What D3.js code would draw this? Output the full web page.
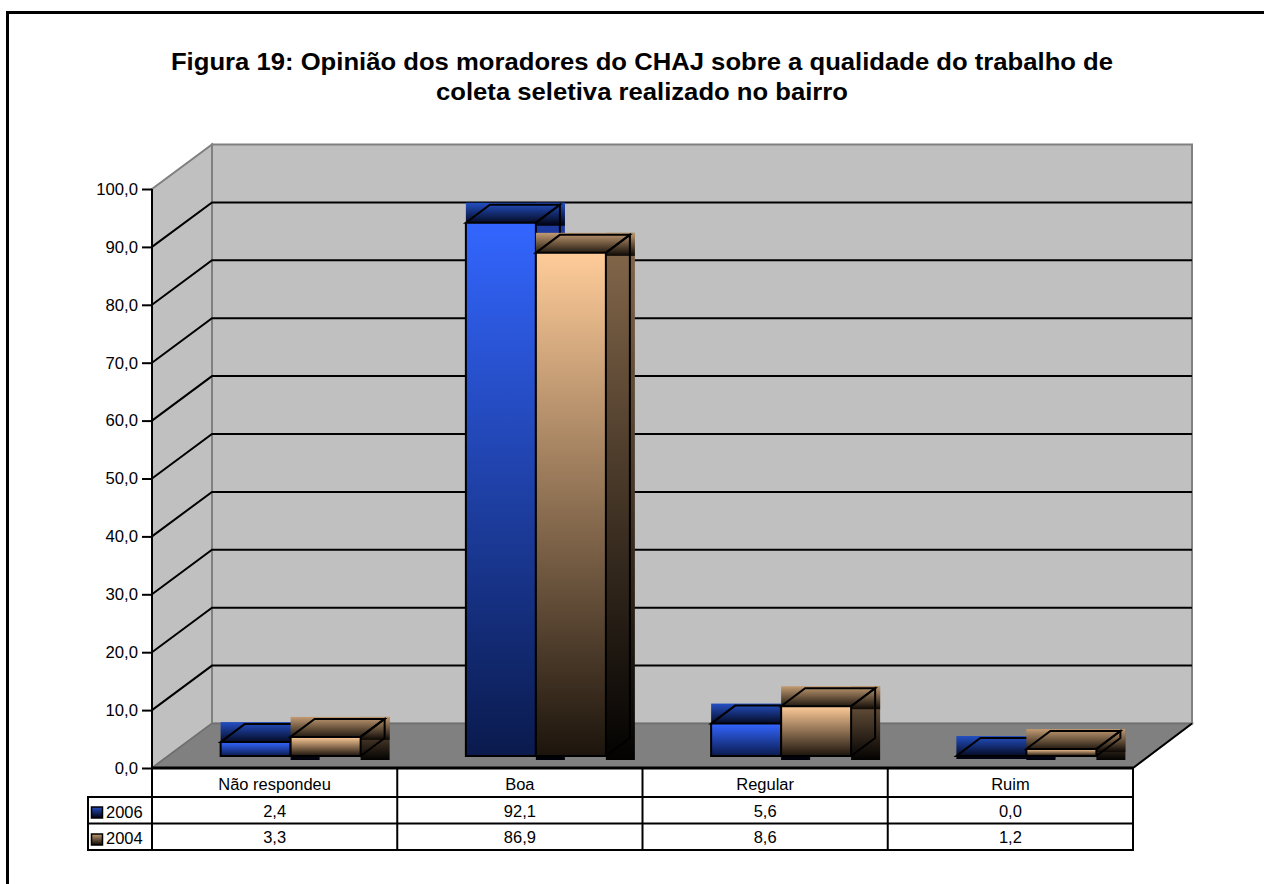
<!DOCTYPE html>
<html><head><meta charset="utf-8">
<style>html,body{margin:0;padding:0;background:#fff;overflow:hidden}svg{display:block}text{font-family:"Liberation Sans",Arial,sans-serif;fill:#000}</style>
<script src="https://cdnjs.cloudflare.com/ajax/libs/d3/7.8.5/d3.min.js"></script></head><body>
<script>
const categories=["Não respondeu","Boa","Regular","Ruim"];
const values2006=[2.4,92.1,5.6,0.0];
const values2004=[3.3,86.9,8.6,1.2];
const seriesNames=["2006","2004"];
const yTicks=[0,10,20,30,40,50,60,70,80,90,100];
const titleLines=["Figura 19: Opinião dos moradores do CHAJ sobre a qualidade do trabalho de","coleta seletiva realizado no bairro"];

const W=1264,H=884;
const svg=d3.select("body").append("svg").attr("width",W).attr("height",H);
const defs=svg.append("defs");
function grad(id,c0,c1){const g=defs.append("linearGradient").attr("id",id).attr("x1",0).attr("y1",0).attr("x2",0).attr("y2",1);
 g.append("stop").attr("offset",0).attr("stop-color",c0);g.append("stop").attr("offset",1).attr("stop-color",c1);}
const palette=[
 {front:["#3366ff","#0a1a4d"],top:["#2450c4","#00000c"],side:["#1f3da6","#000008"]},
 {front:["#ffcc99","#1c140c"],top:["#c29b72","#0c0804"],side:["#86694c","#030201"]}];
palette.forEach((p,i)=>{grad("f"+i,...p.front);grad("t"+i,...p.top);grad("s"+i,...p.side);});

svg.append("path").attr("d",`M7.5,${H}V12.5H${W}`).attr("fill","none").attr("stroke","#000").attr("stroke-width",3);

titleLines.forEach((t,i)=>svg.append("text").attr("transform",`translate(642,${70+i*30}) scale(1.092,1)`)
 .attr("text-anchor","middle").attr("font-weight","bold").attr("font-size",23.5).text(t));

const x0=152,x1=1133,wallDx=60,wallDy=44.5;
const y=d3.scaleLinear().domain([0,100]).range([768,189]);
const x=d3.scaleBand().domain(categories).range([x0,x1]);
const g=svg.append("g");
// walls and floor
g.append("path").attr("d",`M${x0},${y(0)}L${x0+wallDx},${y(0)-wallDy}V${y(100)-wallDy}L${x0},${y(100)}Z`).attr("fill","#c0c0c0").attr("stroke","#808080").attr("stroke-width",2);
g.append("rect").attr("x",x0+wallDx).attr("y",y(100)-wallDy).attr("width",x1-x0-1).attr("height",y(0)-y(100)).attr("fill","#c0c0c0").attr("stroke","#808080").attr("stroke-width",2);
g.append("path").attr("d",`M${x0},${y(0)}L${x0+wallDx},${y(0)-wallDy}H${x1+wallDx-1}L${x1},${y(0)}Z`).attr("fill","#808080").attr("stroke","#6e6e6e").attr("stroke-width",1.5);
g.append("path").attr("d",`M${x1},${y(0)}L${x1+wallDx-1},${y(0)-wallDy}`).attr("stroke","#000").attr("stroke-width",2).attr("fill","none");
// gridlines
g.selectAll(".grid").data(yTicks.filter(d=>d>0&&d<100)).join("path")
 .attr("d",d=>`M${x0},${y(d)}L${x0+wallDx},${y(d)-wallDy}H${x1+wallDx-1}`).attr("fill","none").attr("stroke","#000").attr("stroke-width",2);
// axis
const axis=g.append("g").attr("transform",`translate(${x0},0)`).call(d3.axisLeft(y).tickValues(yTicks).tickSize(10).tickPadding(4).tickFormat(d=>d3.format(".1f")(d).replace(".",",")));
axis.selectAll("text").attr("font-size",16.7).attr("font-family",'"Liberation Sans",Arial,sans-serif').attr("fill","#000");
axis.selectAll("line").attr("stroke","#000").attr("stroke-width",2);
axis.select(".domain").attr("stroke","#000").attr("stroke-width",2).attr("d",`M0,${y(100)}V${y(0)}`);

// bars
const bw=70,barDx=24,barDy=18,offX=16,offY=12;
const barsG=g.append("g");
categories.forEach((c,ci)=>{
 [values2006,values2004].forEach((vals,si)=>{
  const cx=x(c)+x.bandwidth()/2+offX, bx=si===0?cx-bw:cx, by=y(vals[ci])-offY, by0=y(0)-offY;
  const b=barsG.append("g");
  b.append("rect").attr("x",bx+bw).attr("y",by-20).attr("width",barDx+5).attr("height",by0+4-(by-20)).attr("fill",`url(#s${si})`);
  b.append("rect").attr("x",bx).attr("y",by-20).attr("width",bw+barDx+5).attr("height",23).attr("fill",`url(#t${si})`);
  if(by0-by>0.5) b.append("rect").attr("x",bx).attr("y",by).attr("width",bw).attr("height",by0-by).attr("fill",`url(#f${si})`);
  const st={fill:"none",stroke:"#000","stroke-width":2,"stroke-linejoin":"miter"};
  const p=d=>{const e=b.append("path").attr("d",d);Object.entries(st).forEach(([k,v])=>e.attr(k,v));};
  p(`M${bx},${by}L${bx+barDx},${by-barDy}H${bx+bw+barDx}L${bx+bw},${by}Z`);
  p(`M${bx+bw},${by}L${bx+bw+barDx},${by-barDy}V${by0-barDy}L${bx+bw},${by0}`);
  p(`M${bx},${by}V${by0}H${bx+bw}V${by}`);
 });
});

// data table
const rowY=[y(0),797,823.5,850];
const tg=g.append("g");
const line=(a,b,c,d,w)=>tg.append("line").attr("x1",a).attr("y1",b).attr("x2",c).attr("y2",d).attr("stroke","#000").attr("stroke-width",w||2);
line(x0,rowY[0],x1,rowY[0],3);
line(88,rowY[1],x1,rowY[1]);line(88,rowY[2],x1,rowY[2]);line(88,rowY[3],x1,rowY[3]);
line(88,rowY[1]-1,88,rowY[3]+1);line(x0,rowY[0],x0,rowY[3]+1);
categories.forEach(c=>line(x(c)+x.bandwidth(),rowY[0],x(c)+x.bandwidth(),rowY[3]+1));
const cell=(tx,ty,s,a,fs)=>tg.append("text").attr("transform",`translate(${tx},${ty}) scale(1.03,1)`).attr("text-anchor",a||"middle").attr("font-size",fs||16).text(s);
categories.forEach((c,i)=>{
 const m=x(c)+x.bandwidth()/2;
 cell(m,790,c);
 cell(m,817,d3.format(".1f")(values2006[i]).replace(".",","));
 cell(m,843,d3.format(".1f")(values2004[i]).replace(".",","));
});
seriesNames.forEach((n,i)=>{
 tg.append("rect").attr("x",91.5).attr("y",807+i*27).attr("width",11).attr("height",11).attr("fill",`url(#t${i})`).attr("stroke","#000").attr("stroke-width",1.5);
 cell(106,817.5+i*26.5,n,"start",16);
});
</script></body></html>
